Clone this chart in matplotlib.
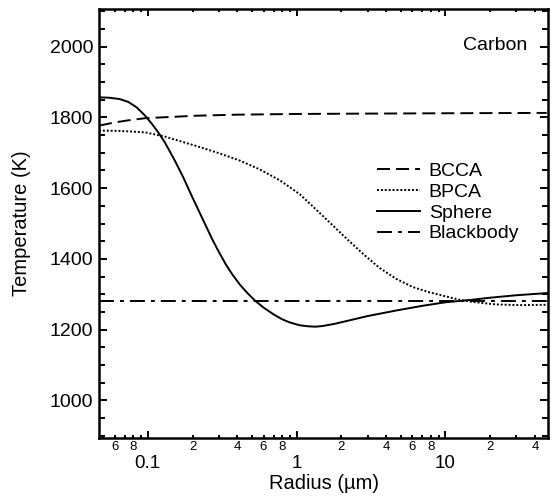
import numpy as np
import matplotlib
matplotlib.use('Agg')
from matplotlib import pyplot as plt
from matplotlib.ticker import LogLocator, FuncFormatter, MultipleLocator

plt.rcParams['font.family'] = ['Liberation Sans', 'DejaVu Sans']

# radius (um) and temperature (K)
sphere_r = [0.047, 0.055, 0.065, 0.074, 0.084, 0.096, 0.107, 0.118, 0.13, 0.152,
            0.173, 0.2, 0.236, 0.27, 0.3, 0.335, 0.37, 0.416, 0.47, 0.525, 0.6, 0.7,
            0.8, 0.9, 1.05, 1.2, 1.35, 1.5, 1.8, 2.17, 3.0, 4.7, 7.0, 10, 15, 20, 30, 48]
sphere_t = [1857, 1856, 1852, 1844, 1829, 1805, 1781, 1757, 1730, 1678,
            1631, 1573, 1509, 1457, 1420, 1384, 1356, 1327, 1302, 1282, 1262, 1243,
            1229, 1220, 1212, 1209, 1208, 1210, 1216, 1224, 1238, 1254, 1267, 1277, 1284, 1290, 1297, 1303]

bpca_r = [0.047, 0.065, 0.096, 0.13, 0.165, 0.225, 0.306, 0.416, 0.567, 0.773,
          1.05, 1.43, 2.17, 2.8, 3.62, 4.69, 6.06, 7.85, 10, 12.5, 15.3, 21.9, 31.5, 48]
bpca_t = [1763, 1762, 1758, 1746, 1733, 1716, 1698, 1678, 1653, 1622,
          1583, 1530, 1457, 1414, 1374, 1343, 1320, 1305, 1294, 1284, 1278, 1271, 1269, 1270]

bcca_r = [0.047, 0.06, 0.074, 0.096, 0.15, 0.21, 0.4, 1, 3, 10, 48]
bcca_t = [1777, 1786, 1792, 1798, 1802, 1805, 1808, 1810, 1811, 1812, 1813]

blackbody_r = [0.047, 48]
blackbody_t = [1282, 1282]

fig = plt.figure(figsize=(5.54, 4.98), dpi=100)
ax = fig.add_axes([0.1787, 0.1205, 0.8105, 0.8614])

lw = 1.4
ax.plot(bcca_r, bcca_t, color='black', lw=lw, dashes=(6.7, 3.1), label='BCCA')
ax.plot(bpca_r, bpca_t, color='black', lw=lw, dashes=(1, 1), label='BPCA')
ax.plot(sphere_r, sphere_t, color='black', lw=lw, label='Sphere')
ax.plot(blackbody_r, blackbody_t, color='black', lw=lw, dashes=(7.7, 3.1, 2.0, 3.1), label='Blackbody')

ax.set_xscale('log')
ax.set_xlim(0.047, 49)
ax.set_ylim(893, 2107)

ax.xaxis.set_major_locator(LogLocator(base=10))
ax.xaxis.set_minor_locator(LogLocator(base=10, subs=np.arange(2, 10)))
ax.xaxis.set_major_formatter(FuncFormatter(lambda v, p: f"{v:g}"))

def minor_fmt(v, p):
    m = int(round(v / 10 ** np.floor(np.log10(v) + 1e-9)))
    return str(m) if m in (2, 4, 6, 8) else ''

ax.xaxis.set_minor_formatter(FuncFormatter(minor_fmt))
ax.yaxis.set_major_locator(MultipleLocator(200))
ax.yaxis.set_minor_locator(MultipleLocator(50))

for s in ax.spines.values():
    s.set_linewidth(1.8)

ax.tick_params(which='both', direction='in', top=True, right=True, width=1.4)
ax.tick_params(axis='x', which='major', length=5, labelsize=13.5, pad=12.4)
ax.tick_params(axis='x', which='minor', length=2.5, labelsize=9.5, pad=2.5)
ax.tick_params(axis='y', which='major', length=5.5, labelsize=14, pad=4)
ax.tick_params(axis='y', which='minor', length=4)

ax.set_xlabel('Radius (µm)', fontsize=14.5)
ax.set_ylabel('Temperature (K)', fontsize=14.5)
ax.xaxis.set_label_coords(0.5, -0.084)
ax.yaxis.set_label_coords(-0.151, 0.5)

ax.text(0.953, 0.904, 'Carbon', transform=ax.transAxes, ha='right', va='baseline', fontsize=14)

ax.legend(loc='upper left', bbox_to_anchor=(0.619, 0.642), frameon=False, fontsize=14,
          handlelength=2.21, handletextpad=0.46, labelspacing=0.16, borderpad=0, borderaxespad=0)

fig.savefig('out.png', dpi=100)
